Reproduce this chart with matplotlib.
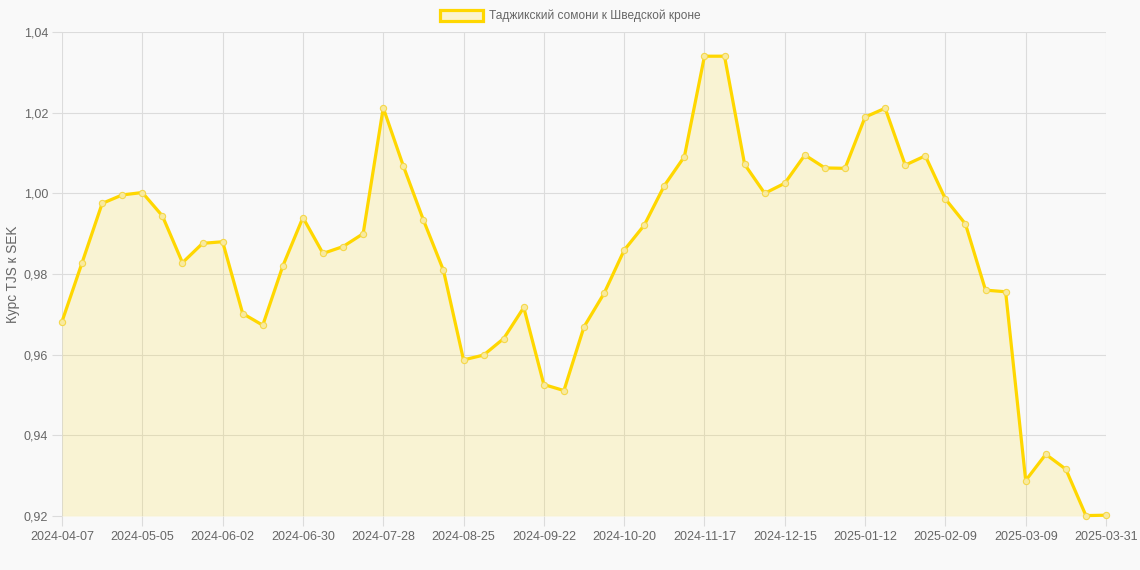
import matplotlib.pyplot as plt
import pandas as pd
from matplotlib.patches import Patch
from matplotlib.ticker import FuncFormatter, FixedLocator

plt.rcParams['font.family'] = ['Liberation Sans', 'DejaVu Sans']

# weekly dates, last point is 2025-03-31
dates = [d.strftime('%Y-%m-%d') for d in pd.date_range('2024-04-07', '2025-03-30', freq='7D')]
dates += ['2025-03-31']

rates = [0.9682, 0.9828, 0.9975, 0.9996, 1.0002, 0.9944, 0.9828, 0.9876, 0.9880, 0.9702,
         0.9673, 0.9820, 0.9940, 0.9851, 0.9868, 0.9900, 1.0212, 1.0068, 0.9934, 0.9809,
         0.9587, 0.9599, 0.9640, 0.9717, 0.9526, 0.9511, 0.9669, 0.9752, 0.9859, 0.9921,
         1.0019, 1.0091, 1.0340, 1.0340, 1.0072, 1.0000, 1.0025, 1.0095, 1.0063, 1.0062,
         1.0189, 1.0211, 1.0070, 1.0093, 0.9986, 0.9924, 0.9760, 0.9756, 0.9288, 0.9353,
         0.9316, 0.9201, 0.9202]

label = 'Таджикский сомони к Шведской кроне'
ylabel = 'Курс TJS к SEK'
yticks = [0.92, 0.94, 0.96, 0.98, 1.00, 1.02, 1.04]

bg = '#f9f9f9'
line_col = '#FFD700'
grid_col = '#dcdcdc'
txt_col = '#666666'

fig = plt.figure(figsize=(11.4, 5.7), dpi=100, facecolor=bg)
ax = fig.add_axes([62 / 1140, 1 - 516 / 570, (1106 - 62) / 1140, (516 - 32) / 570])
ax.set_facecolor(bg)

x = list(range(len(dates)))
ax.fill_between(x, rates, 0.92, color=line_col, alpha=0.15, linewidth=0, zorder=2)
ax.plot(x, rates, color=line_col, linewidth=2.3, zorder=3, clip_on=False,
        marker='o', markersize=4.5, markerfacecolor='#f8eaa0', markeredgecolor='#f5d84a',
        markeredgewidth=0.8)

ax.set_xlim(0, len(dates) - 1)
ax.set_ylim(0.92, 1.04)
ax.xaxis.set_major_locator(FixedLocator(list(range(0, len(dates), 4))))
ax.set_xticklabels(dates[::4])
ax.yaxis.set_major_locator(FixedLocator(yticks))
ax.yaxis.set_major_formatter(FuncFormatter(lambda v, p: f'{v:.2f}'.replace('.', ',')))

for s in ax.spines.values():
    s.set_visible(False)
ax.grid(True, color=grid_col, linewidth=0.8, zorder=1)
ax.set_axisbelow(True)
ax.tick_params(axis='both', length=7, width=0.8, color=grid_col, labelcolor=txt_col,
               labelsize=9)
ax.tick_params(axis='x', pad=4)
ax.tick_params(axis='y', pad=3)

ax.set_ylabel(ylabel, color=txt_col, fontsize=9.8, labelpad=3)

handle = Patch(facecolor='#fbf3cf', edgecolor=line_col, linewidth=2.3)
fig.legend(handles=[handle], labels=[label], loc='upper center', bbox_to_anchor=(0.5, 1.0),
           frameon=False, fontsize=8.6, labelcolor=txt_col, handlelength=3.6, handleheight=1.1,
           handletextpad=0.5, borderaxespad=0.4)

fig.savefig('out.png', dpi=100, facecolor=bg)
